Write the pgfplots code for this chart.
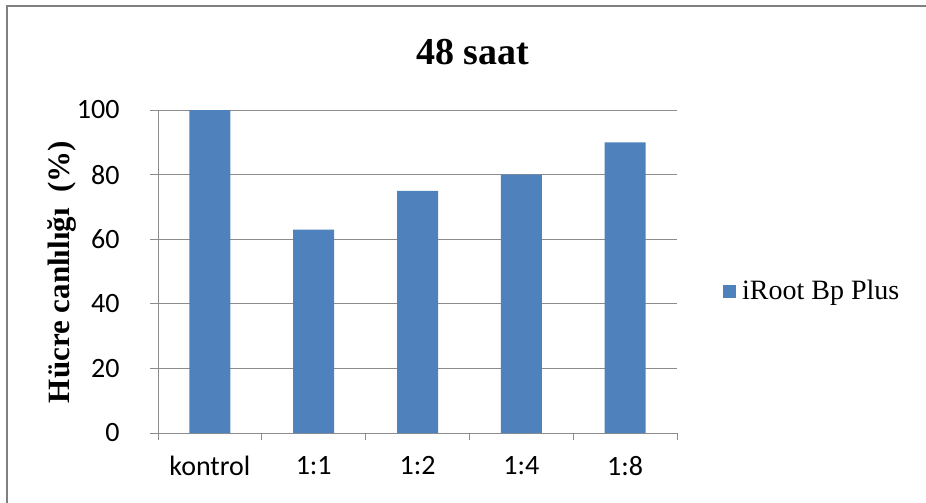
\documentclass[border=0pt]{standalone}
\usepackage{fontspec}
\setmainfont{Liberation Serif}
\newfontfamily\calibri{Carlito}
\usepackage{pgfplots}
\pgfplotsset{compat=1.18}
\definecolor{barblue}{RGB}{79,129,189}
\definecolor{gridgray}{RGB}{140,140,140}
\definecolor{framegray}{RGB}{128,128,128}
\begin{document}
\begin{tikzpicture}[x=1pt,y=1pt]
\useasboundingbox (0,0) rectangle (926,-503);
% chart frame (left and top edges)
\draw[framegray, line width=2pt] (7,-503) -- (7,-6) -- (926,-6);
\begin{axis}[
  name=main,
  at={(158pt,-433pt)}, anchor=south west,
  scale only axis,
  width=519pt, height=323pt,
  xmin=-0.5, xmax=4.5,
  ymin=0, ymax=100,
  axis x line*=bottom,
  axis y line*=left,
  axis line style={gridgray, line width=1pt},
  ytick={0,20,40,60,80,100},
  xtick={0,1,2,3,4},
  xticklabels={kontrol,1:1,1:2,1:4,1:8},
  minor xtick={-0.5,0.5,1.5,2.5,3.5,4.5},
  tick align=outside,
  major tick length=8pt,
  minor tick length=7pt,
  xtick style={draw=none},
  minor x tick style={draw=gridgray, line width=1pt},
  y tick style={draw=gridgray, line width=1pt},
  ymajorgrids,
  major grid style={gridgray, line width=1pt},
  /pgf/number format/assume math mode=true,
  ticklabel style={font=\calibri\fontsize{28}{30}\selectfont, text=black},
  xticklabel style={yshift=-12pt},
  yticklabel style={xshift=-27pt},
  ybar, bar width=41pt,
  area legend,
  legend style={at={(rel axis cs:1.0886,0.4396)}, anchor=west,
    draw=none, fill=none, inner sep=0pt, column sep=4pt,
    font=\fontsize{28}{30}\selectfont},
  legend image code/.code={\fill[#1] (0pt,-6.5pt) rectangle (13pt,6.5pt);},
]
\addplot[fill=barblue, draw=none] coordinates {(0,100) (1,63) (2,75) (3,80) (4,90)};
\addlegendentry{iRoot Bp Plus}
\end{axis}
\node[font=\bfseries\fontsize{38}{40}\selectfont] at (472.5,-52) {48 saat};
\node[font=\bfseries\fontsize{31}{33}\selectfont, rotate=90] at (62,-272) {Hücre canlılığı\ \ (\%)};
\end{tikzpicture}
\end{document}
